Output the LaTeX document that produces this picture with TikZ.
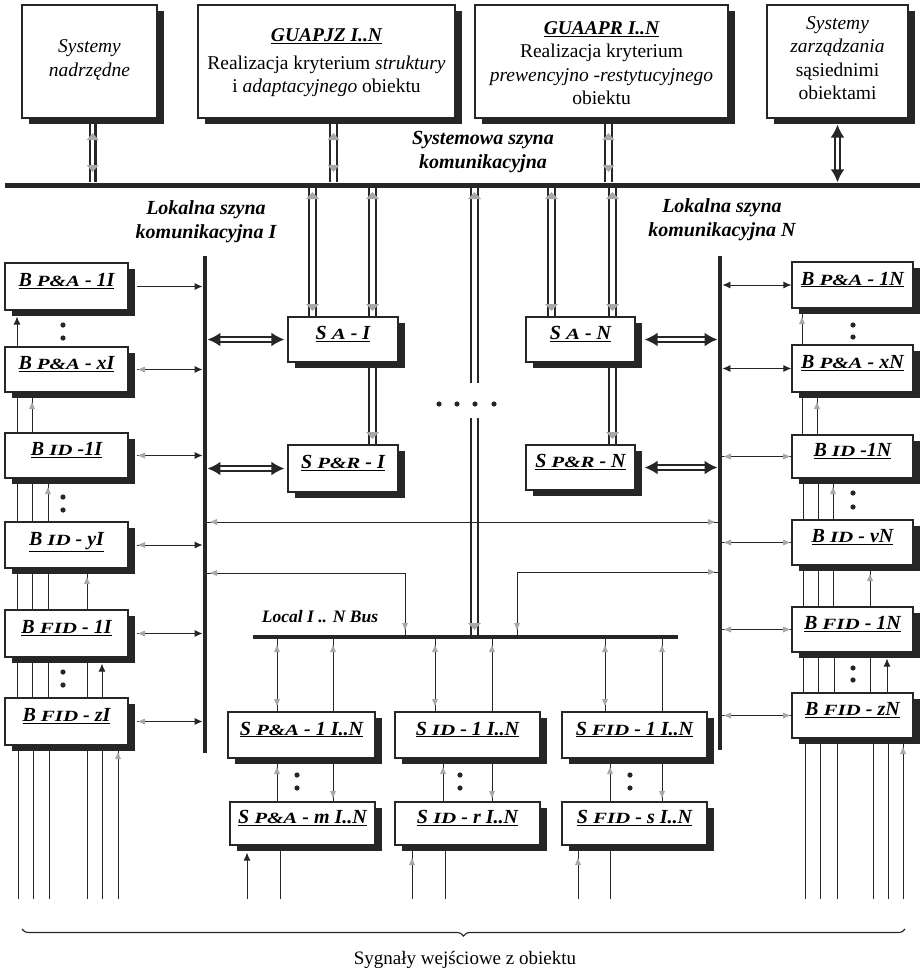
\documentclass[tikz,border=0pt]{standalone}
\usepackage{fontspec}
\setmainfont{Liberation Serif}
\usepackage{graphicx}
\usetikzlibrary{arrows.meta,shadows,decorations.pathreplacing,calc}
\definecolor{ink}{HTML}{262626}
\definecolor{faint}{HTML}{A8A8A8}
\newcommand{\smc}[1]{\scalebox{1.05}[0.78]{#1}}
\newcommand{\gapp}{\hspace{5pt}}
\newcommand{\boxat}[7][]{\node[#1, minimum width={#5-#3}, minimum height={#6-#4}] (#2) at ({(#3+#5)/2},{(#4+#6)/2}) {#7};}
\newcommand{\mkU}[3][6]{\fill[faint] (#2,#3) -- ++({-#1/2},7) -- ++(#1,0) -- cycle;}
\newcommand{\mkD}[3][6]{\fill[faint] (#2,#3) -- ++({-#1/2},-7) -- ++(#1,0) -- cycle;}
\newcommand{\mkR}[3][6]{\fill[faint] (#2,#3) -- ++(-7,{-#1/2}) -- ++(0,#1) -- cycle;}
\newcommand{\mkL}[3][6]{\fill[faint] (#2,#3) -- ++(7,{-#1/2}) -- ++(0,#1) -- cycle;}
\newcommand{\dotm}[2]{\fill[ink] (#1,#2) circle (2.6pt);}
\begin{document}
\begin{tikzpicture}[x=1pt,y=-1pt,
  box/.style={draw=ink, line width=1.2pt, fill=white, inner sep=0pt,
    drop shadow={shadow xshift=7pt, shadow yshift=-6pt, fill=ink, opacity=1}},
  lb/.style={box, font=\fontsize{20}{22}\selectfont\bfseries\itshape, text height=15pt, text depth=15pt},
  tb/.style={font=\fontsize{19.5}{23.5}\selectfont, align=center, inner sep=0pt},
  it/.style={font=\fontsize{20}{24}\selectfont\bfseries\itshape, align=center, inner sep=0pt},
  busline/.style={fill=ink, inner sep=0pt},
  sig/.style={draw=ink, line width=0.9pt},
  dl/.style={draw=ink, line width=2.6pt},
  arr/.style={sig, -{Latex[length=8pt,width=7pt]}},
  arrb/.style={sig, {Latex[length=8pt,width=7pt]}-{Latex[length=8pt,width=7pt]}},
  hol/.style={draw=ink, line width=2.1pt, double=white, double distance=2.6pt,
    {Latex[length=13pt,width=14pt]}-{Latex[length=13pt,width=14pt]}},
]
\fill[white] (0,0) rectangle (923,972);
\useasboundingbox (0,0) rectangle (923,972);

% ---------- top boxes ----------
\boxat[box]{sn}{22}{5}{157}{118}{}
\boxat[box]{gz}{198}{5}{455}{118}{}
\boxat[box]{ga}{475}{5}{728}{118}{}
\boxat[box]{sz}{767}{5}{908}{118}{}
\node[tb, font=\fontsize{19.5}{23.5}\selectfont\itshape] (snt) at (89.5,60) {Systemy\\nadrzędne};
\node[tb] (gzt) at (326.5,63) {\textbf{\textit{\underline{GUAPJZ I..N}}}\\[4pt]Realizacja kryterium \textit{struktury}\\i \textit{adaptacyjnego} obiektu};
\node[tb] (gat) at (601.5,63) {\textbf{\textit{\underline{GUAAPR I..N}}}\\Realizacja kryterium\\\textit{prewencyjno -restytucyjnego}\\obiektu};
\node[tb] (szt) at (837.5,58) {\textit{Systemy}\\\textit{zarządzania}\\sąsiednimi\\obiektami};

% ---------- system bus ----------
\node[busline, minimum width=915, minimum height=5] (sbus) at (462.5,185) {};
\node[it] (sysl) at (483,152) {Systemowa szyna\\komunikacyjna};

\foreach \x in {90,95.5,330,337,605,612}
  {\draw[dl] (\x,0 |- sn.south) -- (\x,0 |- sbus.north);}
\mkU[12]{92.7}{133} \mkD[12]{92.7}{172}
\mkU[12]{333.5}{133} \mkD[12]{333.5}{172}
\mkU[12]{608.5}{133} \mkD[12]{608.5}{172}
\draw[hol] ($(sz.south)+(0,6)$) -- (sz.south |- sbus.north);

% ---------- local buses ----------
\node[busline, minimum width=4.5, minimum height=497] (lbI) at (205,504.5) {};
\node[busline, minimum width=4.5, minimum height=494] (lbN) at (720,503) {};
\node[busline, minimum width=425, minimum height=4] (lbC) at (465.5,637) {};
\node[it] (lkI) at (206,222) {Lokalna szyna\\komunikacyjna I};
\node[it] (lkN) at (722,220) {Lokalna szyna\\komunikacyjna N};
\node[it, font=\fontsize{17.5}{20}\selectfont\bfseries\itshape] (lcl) at (320,617) {Local I .. N Bus};

% ---------- central S boxes ----------
\boxat[lb]{sa1}{288}{317}{398}{362}{\underline{S\gapp\smc{A}\gapp-\gapp I}}
\boxat[lb]{sp1}{288}{445}{398}{492}{\underline{S\gapp\smc{P\&R}\gapp-\gapp I}}
\boxat[lb]{saN}{526}{317}{635}{362}{\underline{S\gapp\smc{A}\gapp-\gapp N}}
\boxat[lb]{spN}{526}{445}{635}{490}{\underline{S\gapp\smc{P\&R}\gapp-\gapp N}}

\foreach \x in {309,316,369,376}
  {\draw[dl] (\x,0 |- sbus.south) -- (\x,0 |- sa1.north);}
\foreach \x in {369,376}
  {\draw[dl] (\x,0 |- sa1.south) -- (\x,0 |- sp1.north);}
\foreach \x in {548,555,609,616}
  {\draw[dl] (\x,0 |- sbus.south) -- (\x,0 |- saN.north);}
\foreach \x in {609,616}
  {\draw[dl] (\x,0 |- saN.south) -- (\x,0 |- spN.north);}
\coordinate (gapT) at (474.5,383);
\coordinate (gapB) at (474.5,418);
\foreach \x in {471,478} {
  \draw[dl] (\x,0 |- sbus.south) -- (\x,0 |- gapT);
  \draw[dl] (\x,0 |- gapB) -- (\x,0 |- lbC.north);
}
\foreach \x in {312.5,372.5,551.5,612.5,474.5} {\mkU[13]{\x}{192}}
\foreach \x in {312.5,372.5,551.5,612.5} {\mkD[13]{\x}{311}}
\mkD[13]{372.5}{439} \mkD[13]{612.5}{439} \mkD[13]{474.5}{630}
\dotm{439}{404} \dotm{457}{404} \dotm{475}{404} \dotm{494}{404}

\draw[hol, shorten >=3pt] (sa1.west -| lbI.east) -- (sa1.west);
\draw[hol, shorten >=3pt] (sp1.west -| lbI.east) -- (sp1.west);
\draw[hol, shorten <=1pt] ([xshift=8pt]saN.east) -- (saN.east -| lbN.west);
\draw[hol, shorten <=1pt] ([xshift=8pt]spN.east) -- (spN.east -| lbN.west);

% ---------- left column ----------
\boxat[lb]{b1}{5}{263}{128}{310}{\underline{B\gapp\smc{P\&A}\gapp-\gapp 1I}}
\boxat[lb]{b2}{5}{347}{128}{392}{\underline{B\gapp\smc{P\&A}\gapp-\gapp xI}}
\boxat[lb]{b3}{5}{433}{128}{478}{\underline{B\gapp\smc{ID}\gapp-1I}}
\boxat[lb]{b4}{5}{522}{128}{568}{\underline{B\gapp\smc{ID}\gapp-\gapp yI}}
\boxat[lb]{b5}{5}{610}{128}{657}{\underline{B\gapp\smc{FID}\gapp-\gapp 1I}}
\boxat[lb]{b6}{5}{698}{128}{745}{\underline{B\gapp\smc{FID}\gapp-\gapp zI}}
\foreach \b in {b1,b2,b3,b4,b5,b6}
  {\draw[arr] ([xshift=8pt]\b.east) -- (\b.east -| lbI.west);}
\foreach \y in {369.5,455.5,545,633.5,721.5} {\mkL{138}{\y}}

\draw[arr] (17,0 |- b2.north) -- ($(17,0 |- b1.south)+(0,6)$);
\foreach \x in {17,32} {\draw[sig] (\x,0 |- b2.south) -- (\x,0 |- b3.north);}
\foreach \x in {17,32,48} {\draw[sig] (\x,0 |- b3.south) -- (\x,0 |- b4.north);}
\foreach \x in {17,32,48,87} {\draw[sig] (\x,0 |- b4.south) -- (\x,0 |- b5.north);}
\foreach \x in {17,32,48,87} {\draw[sig] (\x,0 |- b5.south) -- (\x,0 |- b6.north);}
\draw[arr] (102,0 |- b6.north) -- ($(102,0 |- b5.south)+(0,6)$);
\coordinate (sigend) at (0,899);
\foreach \x in {18,33,49,87,102,118} {\draw[sig] (\x,0 |- b6.south) -- (\x,0 |- sigend);}
\mkU{32}{402} \mkU{48}{487} \mkU{87}{577} \mkU{118}{752}
\dotm{63}{325} \dotm{63}{338}
\dotm{63}{497} \dotm{63}{510}
\dotm{63}{672} \dotm{63}{685}

% ---------- right column ----------
\boxat[lb]{n1}{792}{262}{913}{308}{\underline{B\gapp\smc{P\&A}\gapp-\gapp 1N}}
\boxat[lb]{n2}{792}{345}{913}{392}{\underline{B\gapp\smc{P\&A}\gapp-\gapp xN}}
\boxat[lb]{n3}{792}{435}{913}{478}{\underline{B\gapp\smc{ID}\gapp-1N}}
\boxat[lb]{n4}{792}{520}{913}{565}{\underline{B\gapp\smc{ID}\gapp-\gapp vN}}
\boxat[lb]{n5}{792}{607}{913}{652}{\underline{B\gapp\smc{FID}\gapp-\gapp 1N}}
\boxat[lb]{n6}{792}{693}{913}{738}{\underline{B\gapp\smc{FID}\gapp-\gapp zN}}
\foreach \b in {n1,n2}
  {\draw[arrb] (\b.west -| lbN.east) -- (\b.west);}
\foreach \b in {n3,n4,n5,n6}
  {\draw[sig] (\b.west -| lbN.east) -- (\b.west);}
\foreach \y in {456.5,542.5,629.5,715.5} {\mkL{724}{\y} \mkR{790}{\y}}

\draw[sig] (802,0 |- n2.north) -- (802,0 |- n1.south);
\foreach \x in {802,817} {\draw[sig] (\x,0 |- n2.south) -- (\x,0 |- n3.north);}
\foreach \x in {803,818,833} {\draw[sig] (\x,0 |- n3.south) -- (\x,0 |- n4.north);}
\foreach \x in {803,818,833,870} {\draw[sig] (\x,0 |- n4.south) -- (\x,0 |- n5.north);}
\foreach \x in {803,818,834,870} {\draw[sig] (\x,0 |- n5.south) -- (\x,0 |- n6.north);}
\draw[arr] (887,0 |- n6.north) -- ($(887,0 |- n5.south)+(0,6)$);
\foreach \x in {805,820,837,873,888,903} {\draw[sig] (\x,0 |- n6.south) -- (\x,0 |- sigend);}
\mkU{802}{317} \mkU{817}{402} \mkU{833}{487} \mkU{870}{574} \mkU{903}{747}
\dotm{853}{325} \dotm{853}{337}
\dotm{853}{493} \dotm{853}{507}
\dotm{853}{668} \dotm{853}{680}

% ---------- links between buses ----------
\draw[sig] (lbI.east |- 0,522) -- (lbN.west |- 0,522);
\mkL{210}{522} \mkR{715}{522}
\draw[sig] (lbI.east |- 0,573) -| (405,0 |- lbC.north);
\mkL{210}{573} \mkD{405}{630}
\draw[sig] (517,0 |- lbC.north) |- (lbN.west |- 0,572);
\mkD{517}{630} \mkR{715}{572}

% ---------- bottom S boxes ----------
\boxat[lb]{s1}{228}{712}{375}{758}{\underline{S\gapp\smc{P\&A}\gapp-\gapp 1 I..N}}
\boxat[lb]{s2}{395}{712}{540}{758}{\underline{S\gapp\smc{ID}\gapp-\gapp 1 I..N}}
\boxat[lb]{s3}{562}{712}{707}{758}{\underline{S\gapp\smc{FID}\gapp-\gapp 1 I..N}}
\boxat[lb]{m1}{230}{802}{375}{845}{\underline{S\gapp\smc{P\&A}\gapp-\gapp m I..N}}
\boxat[lb]{m2}{395}{802}{540}{845}{\underline{S\gapp\smc{ID}\gapp-\gapp r I..N}}
\boxat[lb]{m3}{562}{802}{707}{845}{\underline{S\gapp\smc{FID}\gapp-\gapp s I..N}}

\foreach \x in {277,333} {\draw[sig] (\x,0 |- lbC.south) -- (\x,0 |- s1.north);}
\foreach \x in {435,492} {\draw[sig] (\x,0 |- lbC.south) -- (\x,0 |- s2.north);}
\foreach \x in {605,662} {\draw[sig] (\x,0 |- lbC.south) -- (\x,0 |- s3.north);}
\foreach \x in {277,333,435,492,605,662} {\mkU{\x}{645}}
\foreach \x in {277,435,605} {\mkD{\x}{706}}

\foreach \x in {277,333} {\draw[sig] (\x,0 |- s1.south) -- (\x,0 |- m1.north);}
\foreach \x in {443,492} {\draw[sig] (\x,0 |- s2.south) -- (\x,0 |- m2.north);}
\foreach \x in {610,662} {\draw[sig] (\x,0 |- s3.south) -- (\x,0 |- m3.north);}
\foreach \x in {277,443,610} {\mkU{\x}{767}}
\foreach \x in {333,492,662} {\mkD{\x}{798}}
\dotm{297}{775} \dotm{297}{788}
\dotm{460}{775} \dotm{460}{788}
\dotm{630}{775} \dotm{630}{788}

\draw[arr] (247,0 |- sigend) -- ($(247,0 |- m1.south)+(0,7)$);
\draw[sig] (280,0 |- m1.south) -- (280,0 |- sigend);
\foreach \x in {412,445} {\draw[sig] (\x,0 |- m2.south) -- (\x,0 |- sigend);}
\foreach \x in {578,610} {\draw[sig] (\x,0 |- m3.south) -- (\x,0 |- sigend);}
\mkU{412}{858} \mkU{578}{858}

% ---------- brace ----------
\coordinate (brL) at (22,929);
\coordinate (brR) at (905,929);
\draw[ink, line width=1.1pt, decorate, decoration={brace, mirror, amplitude=7pt}] (brL) -- (brR);
\node[font=\fontsize{19}{22}\selectfont, inner sep=0pt] (syg) at (465,960) {Sygnały wejściowe z obiektu};
\end{tikzpicture}
\end{document}
